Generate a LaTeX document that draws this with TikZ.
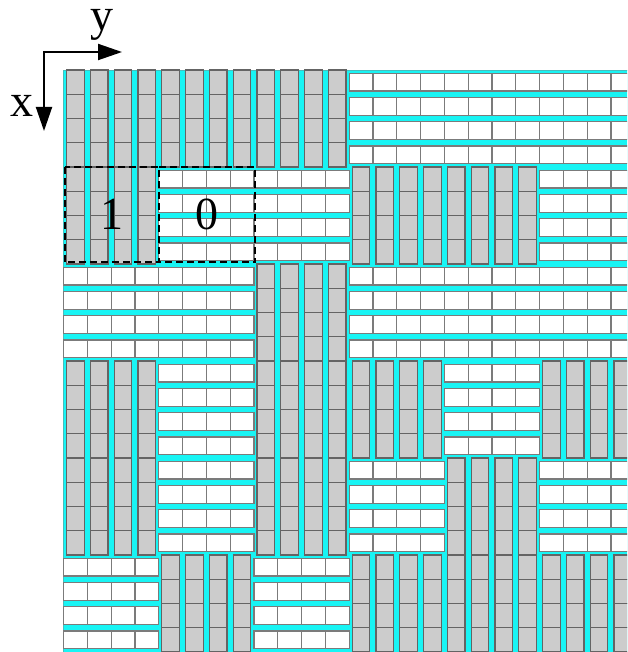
\documentclass[tikz,border=0pt]{standalone}
\usepackage{fontspec}
\setmainfont{Liberation Serif}
\usetikzlibrary{arrows.meta}
\definecolor{stripcyan}{RGB}{24,244,244}
\definecolor{cellgray}{RGB}{204,204,204}
\definecolor{celledge}{RGB}{100,100,100}
\definecolor{gridedge}{RGB}{70,190,190}
\begin{document}
\begin{tikzpicture}[x=1pt, y=-1pt,
  cellV/.style={fill=cellgray, draw=celledge, line width=1.2pt},
  cellH/.style={fill=white, draw=celledge!85, line width=1.2pt},
  axis/.style={line width=2pt, {Triangle[length=24pt, width=16pt]}-{Triangle[length=24pt, width=16pt]}},
  part/.style={line width=1.6pt, dash pattern=on 7pt off 4pt},
  lab/.style={font=\fontsize{46}{50}\selectfont, inner sep=0pt}]
  \useasboundingbox (0,0) rectangle (627,652);
  \clip (0,0) rectangle (627,652);
  % cyan ground of the array
  \fill[stripcyan, draw=gridedge, line width=0.8pt] (63.5,70) rectangle (634.7,652);
  % blocks row by row: 1 = grey cells in columns, 0 = white cells in rows
  \foreach \r/\types in {0/{1,1,1,0,0,0}, 1/{1,0,0,1,1,0}, 2/{0,0,1,0,0,0},
                         3/{1,0,1,1,0,1}, 4/{1,0,1,0,1,0}, 5/{0,1,0,1,1,1}} {
    \foreach \t [count=\c from 0] in \types {
      \foreach \i in {0,...,3} {
        \foreach \j in {0,...,3} {
          \pgfmathsetmacro\xa{63.5+(4*\c+\i)*23.8}
          \pgfmathsetmacro\ya{70+(4*\r+\j)*24.25}
          \ifnum\t=1
            \draw[cellV] (\xa+3.15,\ya) rectangle (\xa+20.65,\ya+24.25);
          \else
            \draw[cellH] (\xa,\ya+3.2) rectangle (\xa+23.8,\ya+21.05);
          \fi
        }
      }
    }
  }
  % marked blocks
  \node[lab, minimum width=94pt, minimum height=95pt] (blkone) at (112,214.5) {1};
  \node[lab, minimum width=96pt, minimum height=95pt] (blkzero) at (207,214.5) {0};
  \draw[part] (blkone.north west) rectangle (blkone.south east);
  \draw[part] (blkone.north east) -- (blkzero.north east) -- (blkzero.south east) -- (blkone.south east);
  % axes
  \coordinate (corner) at (44,52);
  \coordinate (yend) at (122,52);
  \coordinate (xend) at (44,131);
  \draw[axis] (yend) -- (corner) -- (xend);
  \node[lab, anchor=base] (ylab) at (102,31) {y};
  \node[lab, anchor=base] (xlab) at (22,117) {x};
\end{tikzpicture}
\end{document}
